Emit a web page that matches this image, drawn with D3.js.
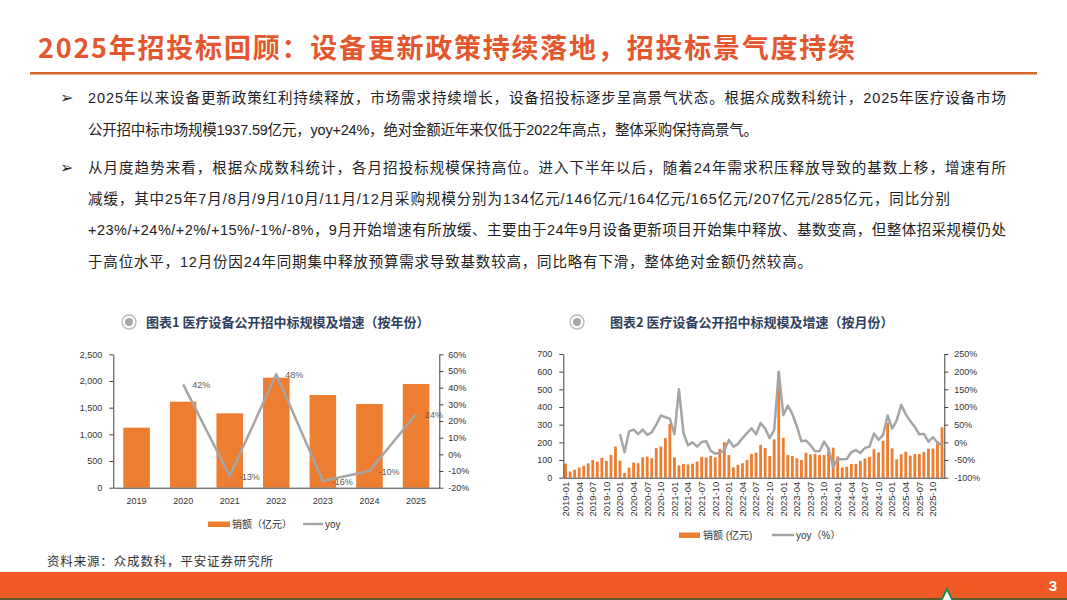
<!DOCTYPE html>
<html>
<head>
<meta charset="utf-8">
<script src="https://cdn.jsdelivr.net/npm/d3@7/dist/d3.min.js"></script>
<style>
body{margin:0;background:#fff;}
svg{display:block;font-family:"Liberation Sans","Noto Sans CJK SC",sans-serif;}
.axis path,.axis line{stroke:#404040;}
.axis text{fill:#333;font-size:9px;font-family:"Liberation Sans","Noto Sans CJK SC",sans-serif;}
</style>
</head>
<body>
<script>
//annual chart data
var years = ["2019", "2020", "2021", "2022", "2023", "2024", "2025"];
var annualSales = [1125, 1612, 1394, 2062, 1737, 1569, 1944];
var annualYoy = [null, 42, -13, 48, -16, -10, 24];
var annualLeftTicks = [0, 500, 1000, 1500, 2000, 2500];
var annualRightTicks = [-20, -10, 0, 10, 20, 30, 40, 50, 60];

//monthly chart data
var monthYears = ["2019", "2020", "2021", "2022", "2023", "2024", "2025"];
var monthNums = ["01", "02", "03", "04", "05", "06", "07", "08", "09", "10", "11", "12"];
var monthlySales = [
    80, 35, 45, 57, 67, 81, 100, 91, 113, 95, 128, 176,
    97, 27, 57, 86, 82, 115, 120, 110, 167, 176, 224, 305,
    115, 69, 78, 75, 79, 92, 118, 114, 124, 115, 163, 201,
    128, 58, 73, 82, 100, 135, 142, 186, 168, 123, 217, 600,
    226, 128, 123, 110, 100, 141, 132, 134, 128, 128, 170, 170,
    120, 58, 62, 78, 78, 96, 109, 118, 161, 143, 209, 310,
    166, 104, 132, 147, 124, 134, 134, 146, 164, 165, 207, 285
];
var monthlyYoy = [
    null, null, null, null, null, null, null, null, null, null, null, null,
    23, -28, 31, 36, 23, 36, 21, 28, 50, 76, 71, 67,
    23, 150, 26, -8, 0, -12, 1, 3, -24, -32, -30, -22,
    7, -12, -5, 12, 26, 40, 23, 55, 39, 12, 35, 200,
    77, 104, 80, 45, 3, 5, -8, -25, -25, 2, -18, -70,
    -47, -48, -47, -28, -22, -30, -16, -12, 25, 7, 21, 76,
    39, 62, 106, 80, 60, 44, 23, 24, 2, 15, -1, -8
];
var monthLeftTicks = [0, 100, 200, 300, 400, 500, 600, 700];
var monthRightTicks = [-100, -50, 0, 50, 100, 150, 200, 250];

//page texts
var titleText = "2025年招投标回顾：设备更新政策持续落地，招投标景气度持续";
var bodyLines = [
    "2025年以来设备更新政策红利持续释放，市场需求持续增长，设备招投标逐步呈高景气状态。根据众成数科统计，2025年医疗设备市场",
    "公开招中标市场规模1937.59亿元，yoy+24%，绝对金额近年来仅低于2022年高点，整体采购保持高景气。",
    "从月度趋势来看，根据众成数科统计，各月招投标规模保持高位。进入下半年以后，随着24年需求积压释放导致的基数上移，增速有所",
    "减缓，其中25年7月/8月/9月/10月/11月/12月采购规模分别为134亿元/146亿元/164亿元/165亿元/207亿元/285亿元，同比分别",
    "+23%/+24%/+2%/+15%/-1%/-8%，9月开始增速有所放缓、主要由于24年9月设备更新项目开始集中释放、基数变高，但整体招采规模仍处",
    "于高位水平，12月份因24年同期集中释放预算需求导致基数较高，同比略有下滑，整体绝对金额仍然较高。"
];
var chart1Title = "图表1 医疗设备公开招中标规模及增速（按年份）";
var chart2Title = "图表2 医疗设备公开招中标规模及增速（按月份）";
var sourceText = "资料来源：众成数科，平安证券研究所";

var orange = "#ED7D31",
    grey = "#A5A5A5";

window.onload = drawPage();

function drawPage(){

    var width = 1067,
        height = 600;

    var svg = d3.select("body")
        .append("svg")
        .attr("width", width)
        .attr("height", height);

    //header
    svg.append("text")
        .attr("x", 38)
        .attr("y", 58)
        .attr("textLength", 817)
        .attr("lengthAdjust", "spacing")
        .style("font-family", "'Noto Sans CJK SC', sans-serif")
        .style("font-weight", "bold")
        .style("font-size", "27px")
        .style("fill", "#E4572E")
        .text(titleText);

    svg.append("rect")
        .attr("x", 30)
        .attr("y", 72)
        .attr("width", 1007)
        .attr("height", 2.5)
        .style("fill", "#D9652B");

    //body paragraphs
    var lineY = [103, 135, 173, 204, 235, 267],
        lineW = [918, 670, 918, 862, 918, 724];

    svg.selectAll(".body")
        .data(bodyLines)
        .enter()
        .append("text")
        .attr("class", "body")
        .attr("x", 88)
        .attr("y", function(d, i){ return lineY[i]; })
        .attr("textLength", function(d, i){ return lineW[i]; })
        .attr("lengthAdjust", "spacing")
        .style("font-size", "14.5px")
        .style("fill", "#222")
        .text(function(d){ return d; });

    svg.selectAll(".bullet")
        .data([0, 2])
        .enter()
        .append("text")
        .attr("class", "bullet")
        .attr("x", 60)
        .attr("y", function(d){ return lineY[d]; })
        .style("font-family", "'DejaVu Sans', sans-serif")
        .style("font-size", "16px")
        .style("font-weight", "bold")
        .style("fill", "#222")
        .text("➢");

    drawAnnual(svg);
    drawMonthly(svg);

    //footer
    svg.append("text")
        .attr("x", 47)
        .attr("y", 566)
        .attr("textLength", 226)
        .attr("lengthAdjust", "spacing")
        .style("font-size", "12.5px")
        .style("fill", "#333")
        .text(sourceText);

    svg.append("rect")
        .attr("x", 0).attr("y", 572)
        .attr("width", width).attr("height", 26)
        .style("fill", "#F15A24");
    svg.append("rect")
        .attr("x", 0).attr("y", 598)
        .attr("width", width).attr("height", 2)
        .style("fill", "#5B5A2E");

    svg.append("path")
        .attr("d", "M941,601 L947,589 L953,601 Z")
        .style("fill", "#fff")
        .style("stroke", "#1E8C4E")
        .style("stroke-width", 2);

    svg.append("text")
        .attr("x", 1053)
        .attr("y", 591)
        .attr("text-anchor", "middle")
        .style("font-weight", "bold")
        .style("font-size", "15px")
        .style("fill", "#fff")
        .text("3");
};

//chart title with round icon
function chartTitle(svg, cx, tx, label){
    svg.append("circle")
        .attr("cx", cx).attr("cy", 322).attr("r", 7)
        .style("fill", "#fff")
        .style("stroke", "#BDBDBD")
        .style("stroke-width", 1.5);
    svg.append("circle")
        .attr("cx", cx).attr("cy", 322).attr("r", 4)
        .style("fill", "#A6A6A6");
    svg.append("text")
        .attr("x", tx)
        .attr("y", 327)
        .style("font-family", "'Noto Sans CJK SC', sans-serif")
        .style("font-weight", "bold")
        .style("font-size", "13px")
        .style("fill", "#2F3F5C")
        .text(label);
};

function drawAnnual(svg){

    chartTitle(svg, 129, 146, chart1Title);

    var left = 113.3, right = 439.3, bottom = 487.7, top = 354.3;

    var x = d3.scaleBand()
        .domain(years)
        .range([left, right])
        .paddingInner(0.43)
        .paddingOuter(0.215);

    var yL = d3.scaleLinear().domain([0, 2500]).range([bottom, top]);
    var yR = d3.scaleLinear().domain([-20, 60]).range([bottom, top]);

    var g = svg.append("g");

    //bars
    g.selectAll(".abar")
        .data(annualSales)
        .enter()
        .append("rect")
        .attr("class", "abar")
        .attr("x", function(d, i){ return x(years[i]); })
        .attr("y", function(d){ return yL(d); })
        .attr("width", x.bandwidth())
        .attr("height", function(d){ return bottom - yL(d); })
        .style("fill", orange);

    //axes
    g.append("g")
        .attr("class", "axis")
        .attr("transform", "translate(" + left + ",0)")
        .call(d3.axisLeft(yL).tickValues(annualLeftTicks).tickSize(4).tickSizeOuter(0).tickPadding(7).tickFormat(d3.format(",")));

    g.append("g")
        .attr("class", "axis")
        .attr("transform", "translate(" + right + ",0)")
        .call(d3.axisRight(yR).tickValues(annualRightTicks).tickSize(4).tickSizeOuter(0).tickPadding(5).tickFormat(function(d){ return d + "%"; }));

    g.append("g")
        .attr("class", "axis")
        .attr("transform", "translate(0," + bottom + ")")
        .call(d3.axisBottom(x).tickSize(0).tickPadding(10));

    //yoy line
    var pts = years.map(function(y, i){ return {k: y, v: annualYoy[i]}; })
        .filter(function(d){ return d.v !== null; });

    var line = d3.line()
        .x(function(d){ return x(d.k) + x.bandwidth() / 2; })
        .y(function(d){ return yR(d.v); });

    g.append("path")
        .datum(pts)
        .attr("d", line)
        .style("fill", "none")
        .style("stroke", grey)
        .style("stroke-width", 2.5)
        .style("stroke-linejoin", "round");

    g.selectAll(".alabel")
        .data(pts)
        .enter()
        .append("text")
        .attr("class", "alabel")
        .attr("x", function(d){ return x(d.k) + x.bandwidth() / 2 + 9; })
        .attr("y", function(d){ return yR(d.v) + 4; })
        .style("font-size", "9px")
        .style("fill", "#595959")
        .text(function(d){ return d.v + "%"; });

    //legend
    g.append("rect")
        .attr("x", 208).attr("y", 521.5)
        .attr("width", 22).attr("height", 5.5)
        .style("fill", orange);
    g.append("text")
        .attr("x", 232).attr("y", 528)
        .style("font-size", "10px")
        .style("fill", "#333")
        .text("销额（亿元）");
    g.append("line")
        .attr("x1", 303).attr("x2", 323)
        .attr("y1", 524).attr("y2", 524)
        .style("stroke", grey)
        .style("stroke-width", 2.5);
    g.append("text")
        .attr("x", 325).attr("y", 528)
        .style("font-size", "10px")
        .style("fill", "#333")
        .text("yoy");
};

function drawMonthly(svg){

    chartTitle(svg, 577, 610, chart2Title);

    var left = 563.3, right = 944.3, bottom = 477.7, top = 354;

    var monthCats = [];
    monthYears.forEach(function(y){
        monthNums.forEach(function(m){ monthCats.push(y + "-" + m); });
    });

    var x = d3.scaleBand()
        .domain(monthCats)
        .range([left, right])
        .paddingInner(0.38)
        .paddingOuter(0.19);

    var yL = d3.scaleLinear().domain([0, 700]).range([bottom, top]);
    var yR = d3.scaleLinear().domain([-100, 250]).range([bottom, top]);

    var g = svg.append("g");

    g.selectAll(".mbar")
        .data(monthlySales)
        .enter()
        .append("rect")
        .attr("class", "mbar")
        .attr("x", function(d, i){ return x(monthCats[i]); })
        .attr("y", function(d){ return yL(d); })
        .attr("width", x.bandwidth())
        .attr("height", function(d){ return bottom - yL(d); })
        .style("fill", orange);

    g.append("g")
        .attr("class", "axis")
        .attr("transform", "translate(" + left + ",0)")
        .call(d3.axisLeft(yL).tickValues(monthLeftTicks).tickSize(4).tickSizeOuter(0).tickPadding(7));

    g.append("g")
        .attr("class", "axis")
        .attr("transform", "translate(" + right + ",0)")
        .call(d3.axisRight(yR).tickValues(monthRightTicks).tickSize(4).tickSizeOuter(0).tickPadding(6).tickFormat(function(d){ return d + "%"; }));

    //bottom axis with rotated labels every third month
    var xAxis = g.append("g")
        .attr("class", "axis")
        .attr("transform", "translate(0," + bottom + ")")
        .call(d3.axisBottom(x)
            .tickValues(monthCats.filter(function(d, i){ return i % 3 === 0; }))
            .tickSize(0)
            .tickSizeOuter(0));

    xAxis.selectAll("text")
        .attr("text-anchor", "end")
        .attr("dy", "0.35em")
        .attr("transform", "translate(0,4) rotate(-90)")
        .attr("x", 0)
        .attr("y", 0)
        .style("font-size", "9.5px");

    var pts = monthCats.map(function(k, i){ return {k: k, v: monthlyYoy[i]}; });

    var line = d3.line()
        .defined(function(d){ return d.v !== null; })
        .x(function(d){ return x(d.k) + x.bandwidth() / 2; })
        .y(function(d){ return yR(d.v); });

    g.append("path")
        .datum(pts)
        .attr("d", line)
        .style("fill", "none")
        .style("stroke", grey)
        .style("stroke-width", 2.5)
        .style("stroke-linejoin", "round");

    //legend
    g.append("rect")
        .attr("x", 679).attr("y", 532.5)
        .attr("width", 21).attr("height", 5.5)
        .style("fill", orange);
    g.append("text")
        .attr("x", 703).attr("y", 539)
        .style("font-size", "10px")
        .style("fill", "#333")
        .text("销额 (亿元)");
    g.append("line")
        .attr("x1", 772).attr("x2", 794)
        .attr("y1", 535).attr("y2", 535)
        .style("stroke", grey)
        .style("stroke-width", 2.5);
    g.append("text")
        .attr("x", 796).attr("y", 539)
        .style("font-size", "10px")
        .style("fill", "#333")
        .text("yoy（%）");
};
</script>
</body>
</html>
